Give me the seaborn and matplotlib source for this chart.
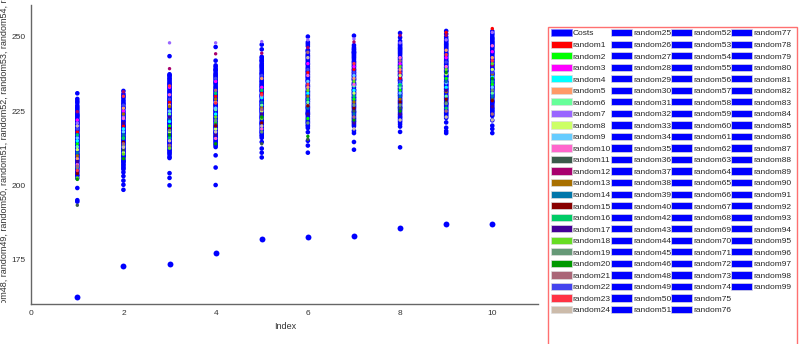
import matplotlib
matplotlib.use("Agg")
import matplotlib.pyplot as plt
from matplotlib.patches import Patch, Rectangle
from matplotlib.transforms import Bbox, TransformedBbox
import pandas as pd
import seaborn as sns

index = [1, 2, 3, 4, 5, 6, 7, 8, 9, 10]
costs = [162.3, 172.8, 173.5, 177.2, 182.0, 182.5, 183.0, 185.5, 187.0, 187.0]

# random41 and random47 are not in the chart
random_ids = [i for i in range(1, 100) if i not in (41, 47)]
random_names = [f"random{i}" for i in random_ids]

# colours of random1..random24, the rest are plain blue
first_colors = ["#ff0000", "#00ff00", "#ff00ff", "#00ffff", "#ff9966", "#66ff99",
                "#9966ff", "#ccff66", "#66ccff", "#ff66cc", "#3a5a4a", "#a8006e",
                "#a87000", "#0077aa", "#880000", "#00cc66", "#440099", "#66dd22",
                "#669977", "#009900", "#aa6677", "#4444ee", "#ff3344", "#ccbbaa"]
blue = "#0000ff"

# values at each index, random1..random24 first, then random25..random99
at_1 = [218, 214, 222, 215, 209, 213, 221, 212, 216, 207, 193.3, 224.8,
        210, 211, 204, 217, 208, 202.5, 206, 202, 206.5, 219, 205, 220,
        226.3, 213.8, 219.2, 208.4, 223.7, 211.6, 229.1, 205.3, 217.4, 221.9,
        214.6, 209.8, 224.1, 203.6, 216.2, 220.7, 212.3, 227.8, 207.1, 218.9,
        215.4, 222.6, 210.2, 204.8, 225.2, 213.1, 219.8, 206.7, 231.0, 216.9,
        211.2, 223.1, 208.9, 214.1, 220.3, 202.4, 217.9, 226.9, 209.3, 212.8,
        221.4, 205.9, 215.8, 228.4, 207.6, 219.5, 213.4, 224.6, 210.7, 199.1,
        216.6, 222.1, 203.2, 218.3, 211.9, 225.8, 208.1, 214.9, 220.9, 195.0,
        212.6, 217.1, 206.2, 223.4, 209.5, 215.1, 221.2, 194.5, 213.6, 218.6,
        210.4, 204.3, 216.4]
at_2 = [220, 216, 225, 219, 226, 213, 223, 211, 218, 222.5, 212, 231.5,
        224, 217, 214.5, 215.8, 221, 210.5, 213.5, 209, 214, 227, 230, 212.8,
        229.4, 215.2, 221.7, 208.6, 225.9, 212.4, 231.8, 206.3, 219.6, 223.8,
        216.8, 210.9, 227.3, 205.4, 218.1, 222.9, 213.7, 230.2, 209.2, 220.6,
        217.3, 224.5, 211.8, 207.2, 226.6, 214.8, 221.1, 208.0, 228.7, 218.8,
        212.1, 225.1, 209.7, 215.9, 222.3, 206.8, 219.1, 229.9, 210.3, 213.2,
        223.3, 207.8, 216.4, 228.2, 211.4, 220.2, 214.3, 226.1, 212.7, 203.1,
        217.8, 224.0, 204.4, 219.9, 210.0, 227.6, 208.3, 215.5, 221.5, 201.6,
        213.9, 218.4, 205.8, 222.7, 209.9, 216.1, 230.8, 198.5, 214.6, 220.0,
        211.1, 200.2, 217.6]
at_3 = [228, 220, 233, 221.5, 227, 224, 248, 218, 225, 230.5, 213, 239.3,
        226.5, 222.5, 219, 216, 223, 212.5, 218.5, 217, 213.5, 229, 233.5, 215,
        235.4, 221.1, 229.6, 214.2, 232.8, 218.7, 236.9, 211.3, 226.4, 231.2,
        223.6, 216.5, 234.1, 210.4, 225.7, 230.1, 219.9, 237.4, 213.8, 228.6,
        222.4, 233.2, 217.7, 212.1, 234.9, 220.8, 227.3, 215.1, 236.2, 224.7,
        218.2, 231.8, 214.9, 221.9, 228.1, 211.8, 225.3, 235.9, 216.9, 219.4,
        230.6, 213.2, 223.1, 233.7, 217.2, 227.8, 220.4, 232.3, 218.9, 209.6,
        224.2, 229.2, 210.9, 226.8, 215.6, 234.4, 212.7, 222.2, 228.9, 243.5,
        219.6, 225.9, 209.2, 231.5, 216.2, 223.9, 237.0, 204.1, 221.4, 227.1,
        214.5, 202.5, 200.0]
at_4 = [230, 221, 235, 224, 228, 225.5, 248, 219, 226, 215.8, 220.5, 244.3,
        229, 222, 220, 231, 217, 223, 221.8, 214, 232, 236, 227.7, 218,
        238.6, 224.4, 232.7, 217.3, 235.8, 221.6, 239.9, 214.4, 229.3, 234.2,
        226.7, 219.6, 237.1, 213.5, 228.8, 233.1, 222.9, 240.4, 216.8, 231.6,
        225.4, 236.3, 220.7, 215.2, 237.9, 223.8, 230.4, 218.1, 239.2, 227.6,
        221.2, 234.8, 217.9, 224.9, 231.1, 214.8, 228.4, 238.9, 219.9, 222.4,
        233.6, 216.2, 226.1, 236.7, 220.2, 230.8, 223.4, 235.3, 221.9, 212.9,
        227.2, 232.2, 213.9, 229.8, 218.6, 237.4, 215.7, 225.2, 231.9, 242.0,
        222.6, 228.9, 216.5, 234.5, 219.2, 226.9, 246.6, 210.1, 224.1, 230.1,
        217.6, 206.0, 200.1]
at_5 = [231, 223, 233, 229.5, 236, 227, 248.4, 225, 230, 219, 214, 244.5,
        226, 228, 221, 232, 224, 222.5, 218, 223, 225.5, 237, 230.5, 220,
        241.7, 227.6, 235.8, 220.5, 238.9, 224.8, 242.9, 217.6, 232.4, 237.3,
        229.8, 222.7, 240.2, 216.6, 231.9, 236.2, 226.0, 243.3, 219.9, 234.7,
        228.5, 239.4, 223.8, 218.3, 241.0, 226.9, 233.5, 221.2, 242.3, 230.7,
        224.3, 237.9, 221.0, 228.0, 234.2, 217.9, 231.5, 242.0, 223.0, 225.5,
        236.7, 219.3, 229.2, 239.8, 223.3, 233.9, 226.5, 238.4, 225.0, 216.0,
        230.3, 235.3, 217.0, 232.9, 221.7, 240.5, 218.8, 228.3, 235.0, 247.4,
        225.7, 232.0, 214.6, 237.6, 222.3, 230.0, 245.8, 212.4, 227.2, 233.2,
        220.7, 211.0, 209.4]
at_6 = [238, 222.5, 241, 231, 233, 228, 249, 227, 235, 237, 215.5, 246.4,
        230, 226, 226.8, 229, 224, 232, 221, 216.5, 244.8, 239, 234, 243,
        245.3, 230.9, 239.1, 223.8, 242.2, 228.1, 246.9, 220.9, 235.7, 240.6,
        233.1, 226.0, 243.5, 219.9, 235.2, 239.5, 229.3, 250.1, 223.2, 238.0,
        231.8, 242.7, 227.1, 221.6, 244.3, 230.2, 236.8, 224.5, 245.6, 234.0,
        227.6, 241.2, 224.3, 231.3, 237.5, 221.2, 234.8, 245.0, 226.3, 228.8,
        240.0, 222.6, 232.5, 243.1, 226.6, 237.2, 229.8, 241.7, 228.3, 219.3,
        233.6, 238.6, 220.3, 236.2, 225.0, 243.8, 222.1, 231.6, 238.3, 248.2,
        229.0, 235.3, 217.9, 240.9, 225.6, 233.3, 247.6, 215.0, 230.5, 236.5,
        224.0, 213.4, 211.0]
at_7 = [239, 229, 240, 232, 236, 233.5, 249.3, 231, 237, 234, 225, 248.3,
        228, 224, 226, 230, 221, 235, 227, 222, 223, 238, 241, 219,
        246.0, 231.4, 239.8, 224.2, 242.9, 228.7, 247.2, 221.4, 236.3, 241.1,
        233.7, 226.5, 244.1, 220.4, 235.9, 240.2, 229.9, 250.4, 223.7, 238.6,
        232.3, 243.3, 227.7, 222.2, 245.2, 230.8, 237.4, 225.1, 246.5, 234.6,
        228.2, 241.8, 224.8, 231.9, 238.1, 221.7, 235.4, 244.8, 226.9, 229.4,
        240.7, 223.1, 233.0, 243.7, 227.2, 237.9, 230.4, 242.4, 228.9, 219.9,
        234.2, 239.2, 220.9, 236.8, 225.7, 244.5, 222.6, 232.1, 238.9, 244.8,
        229.6, 235.7, 218.4, 241.5, 226.2, 233.9, 245.7, 217.6, 231.1, 237.0,
        224.6, 214.6, 212.0]
at_8 = [236, 232, 241, 234, 239, 233, 248, 237, 231, 243, 226, 250.5,
        229, 230, 228, 233.8, 224, 240, 227, 225, 242, 235, 238, 222,
        247.4, 232.8, 241.1, 225.6, 244.3, 230.1, 248.6, 222.8, 237.7, 242.5,
        235.1, 227.9, 245.5, 221.8, 237.3, 241.6, 231.3, 251.3, 225.1, 240.0,
        233.7, 244.7, 229.1, 223.6, 246.6, 232.2, 238.8, 226.5, 247.9, 236.0,
        229.6, 243.2, 226.2, 233.3, 239.5, 223.1, 236.8, 246.2, 228.3, 230.8,
        242.1, 224.5, 234.4, 245.1, 228.6, 239.3, 231.8, 243.8, 230.3, 221.3,
        235.6, 240.6, 222.3, 238.2, 227.1, 245.9, 224.0, 233.5, 240.3, 249.8,
        231.0, 237.1, 219.8, 242.9, 227.6, 235.3, 247.1, 218.0, 232.5, 238.4,
        226.0, 220.6, 212.8]
at_9 = [251.5, 236, 243, 233, 245.5, 230, 249, 237.5, 234.5, 240, 228, 250.5,
        231.5, 235, 229, 226, 232, 239, 227.5, 238, 225, 241.5, 244, 223,
        248.8, 234.2, 242.5, 227.0, 245.7, 231.5, 250.0, 224.2, 239.1, 243.9,
        236.5, 229.3, 246.9, 223.2, 238.7, 243.0, 232.7, 252.0, 226.5, 241.4,
        235.1, 246.1, 230.5, 225.0, 248.0, 233.6, 240.2, 227.9, 249.3, 237.4,
        231.0, 244.6, 227.6, 234.7, 240.9, 224.5, 238.2, 247.6, 229.7, 232.2,
        243.5, 225.9, 235.8, 246.5, 230.0, 240.7, 233.2, 245.2, 231.7, 222.7,
        237.0, 242.0, 223.7, 239.6, 228.5, 247.3, 225.4, 234.9, 241.7, 251.0,
        232.4, 238.5, 221.2, 244.3, 229.0, 236.7, 248.5, 219.4, 233.9, 239.8,
        227.4, 218.3, 217.6]
at_10 = [252.8, 234, 245, 236.5, 243, 231, 251.5, 239, 233, 247, 229, 240.5,
         237.5, 230, 228.5, 235, 226.5, 241, 232, 236, 224, 238, 242, 222,
         249.5, 234.9, 243.2, 227.7, 246.4, 232.2, 250.7, 224.9, 239.8, 244.6,
         237.2, 230.0, 247.6, 223.9, 239.4, 243.7, 233.4, 251.9, 227.2, 242.1,
         235.8, 246.8, 231.2, 225.7, 248.7, 234.3, 240.9, 228.6, 250.0, 238.1,
         231.7, 245.3, 228.3, 235.4, 241.6, 225.2, 238.9, 248.3, 230.4, 232.9,
         244.2, 226.6, 236.5, 247.2, 230.7, 241.4, 233.9, 245.9, 232.4, 223.4,
         237.7, 242.7, 224.4, 240.3, 229.2, 248.0, 226.1, 235.6, 242.4, 251.2,
         233.1, 239.2, 221.9, 245.0, 229.7, 237.4, 249.2, 220.1, 234.6, 240.5,
         228.1, 219.0, 217.6]

columns = [at_1, at_2, at_3, at_4, at_5, at_6, at_7, at_8, at_9, at_10]

palette = {name: blue for name in random_names}
for name, c in zip(random_names, first_colors):
    palette[name] = c

rows = []
for name_i, name in enumerate(random_names):
    for x, vals in zip(index, columns):
        rows.append((x, name, vals[name_i]))
df = pd.DataFrame(rows, columns=["Index", "series", "value"])
coloured = df["series"].isin(random_names[:len(first_colors)])

sns.set_theme(style="white")
plt.rcParams['font.family'] = ['Liberation Sans', 'DejaVu Sans']

fig = plt.figure(figsize=(8, 3.44), dpi=100)
ax = fig.add_axes([0.039, 0.116, 0.634, 0.870])

# blue strips first, the coloured series as small specks on top
sns.scatterplot(data=df[~coloured], x="Index", y="value", hue="series",
                palette=palette, s=11, linewidth=0, legend=False, ax=ax)
sns.scatterplot(data=df[coloured], x="Index", y="value", hue="series",
                palette=palette, s=6, linewidth=0, legend=False, ax=ax)
sns.scatterplot(x=index, y=costs, color=blue, s=18, linewidth=0, ax=ax)

ax.set_xlim(0, 11)
ax.set_ylim(160, 260.8)
ax.set_xticks([0, 2, 4, 6, 8, 10])
ax.set_yticks([175, 200, 225, 250])
ax.tick_params(direction="inout", length=4, width=0.8, colors="#666666",
               labelcolor="#333333", labelsize=6, pad=2)
for side in ["top", "right"]:
    ax.spines[side].set_visible(False)
for side in ["left", "bottom"]:
    ax.spines[side].set_color("#666666")
    ax.spines[side].set_linewidth(1)

all_names = ["Costs"] + random_names
ax.set_xlabel("Index", fontsize=6.5, color="#333333", labelpad=4)
ax.set_ylabel(", ".join(all_names) + ",", fontsize=6.5, color="#333333", labelpad=2)
lbl = ax.yaxis.label
lbl.set_clip_on(True)
lbl.set_clip_box(TransformedBbox(Bbox.from_extents(0, 0.12, 1, 1), fig.transFigure))

handles = [Patch(facecolor=blue, edgecolor="#8888ff", linewidth=0.5)]
for name in random_names:
    handles.append(Patch(facecolor=palette[name], edgecolor="#dddddd", linewidth=0.5))
labels = list(all_names)
# blank slot so the columns split 25/25/25/23 like the original
handles.append(Patch(facecolor="none", edgecolor="none"))
labels.append("")

fig.legend(handles, labels, ncol=4, loc="upper left",
           bbox_to_anchor=(551 / 800, 1 - 29 / 344), frameon=False,
           fontsize=6, handlelength=2.5, handleheight=0.95, handletextpad=0.12,
           columnspacing=0.0, labelspacing=0.37, borderpad=0, borderaxespad=0)

fig.add_artist(Rectangle((548 / 800, -0.05), 249 / 800, 1.05 - 27 / 344,
                         transform=fig.transFigure, fill=False,
                         edgecolor="#ff7070", linewidth=1))

fig.savefig("out.png", dpi=100, facecolor="white")
